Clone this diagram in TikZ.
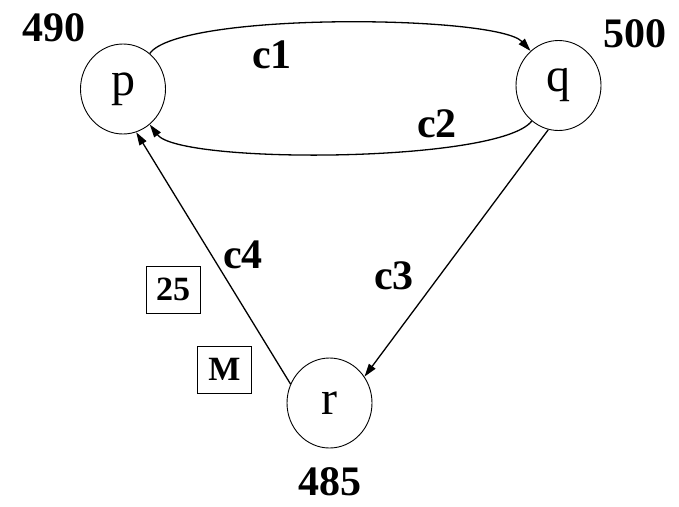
\documentclass[tikz,border=0pt]{standalone}
\usepackage{fontspec}
\setmainfont{Liberation Serif}
\usetikzlibrary{shapes.geometric,arrows.meta}
\begin{document}
\begin{tikzpicture}[x=1pt,y=-1pt,
  st/.style={draw,line width=0.9pt,ellipse,inner sep=0pt,minimum width=85pt,minimum height=90pt,font=\fontsize{48}{54}\selectfont},
  lbl/.style={font=\fontsize{42}{48}\selectfont\bfseries,inner sep=0pt},
  boxst/.style={draw,line width=0.9pt,inner sep=0pt,minimum width=54pt,minimum height=47pt,font=\fontsize{34}{38}\selectfont\bfseries},
  edge/.style={line width=1.3pt,-{Triangle[length=13pt,width=8pt]}}]
\useasboundingbox (0,0) rectangle (679,506);
\node[st] (p) at (123,89) {p};
\node[st] (q) at (558.5,85.5) {q};
\node[st] (r) at (329.5,403) {r};
\node[lbl] (n490) at (54,28) {490};
\node[lbl] (n500) at (635,34) {500};
\node[lbl] (n485) at (330,482) {485};
\node[lbl] (c1) at (272,55) {c1};
\node[lbl] (c2) at (437,124) {c2};
\node[lbl] (c3) at (394,276) {c3};
\node[lbl] (c4) at (243,255) {c4};
\node[boxst] (b25) at (173,289.5) {25};
\node[boxst] (bM) at (224.5,369.5) {M};
\draw[edge] (p.53) .. controls +(30,-42) and +(-33,-36) .. (q.129);
\draw[edge] (q.233) .. controls +(-32,42) and +(30,40) .. (p.-53);
\draw[edge] (q.-103) -- (r.37);
\draw[edge] (r.154) -- (p.-73);
\end{tikzpicture}
\end{document}
